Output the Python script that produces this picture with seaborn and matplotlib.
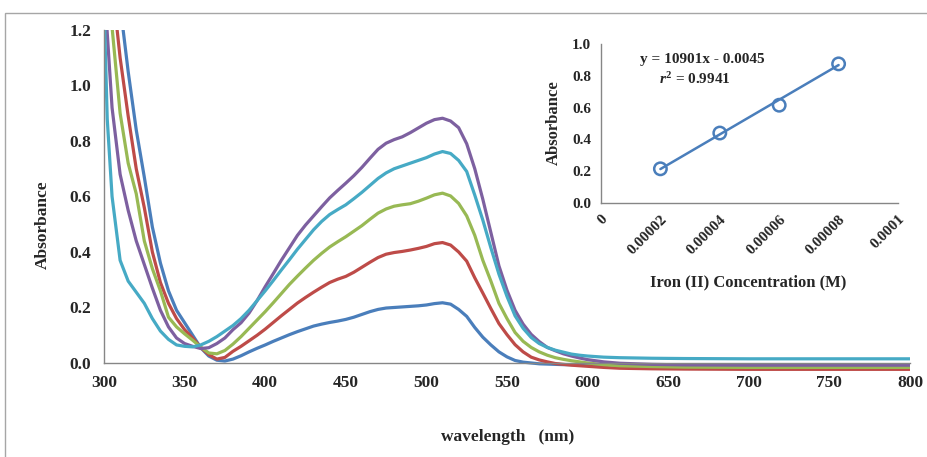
import numpy as np
import pandas as pd
import seaborn as sns
import matplotlib.pyplot as plt
from matplotlib.patches import Rectangle

# wavelength grid (nm) and absorbance
wavelength = [300, 302, 305, 310, 315, 320, 325, 330, 335, 340, 345, 350, 355, 360, 365,
              370, 375, 380, 385, 390, 395, 400, 405, 410, 415, 420, 425, 430, 435, 440,
              445, 450, 455, 460, 465, 470, 475, 480, 485, 490, 495, 500, 505, 510, 515,
              520, 525, 530, 535, 540, 545, 550, 555, 560, 565, 570, 575, 580, 585, 590,
              595, 600, 610, 620, 640, 660, 700, 750, 800]

blue = [1.75, 1.65, 1.50, 1.29, 1.05, 0.84, 0.67, 0.49, 0.36, 0.26, 0.19, 0.145, 0.10, 0.055, 0.025,
        0.010, 0.007, 0.014, 0.026, 0.040, 0.053, 0.065, 0.078, 0.090, 0.102, 0.113, 0.123, 0.133, 0.140, 0.146,
        0.151, 0.157, 0.165, 0.175, 0.185, 0.193, 0.198, 0.200, 0.202, 0.204, 0.206, 0.209, 0.214, 0.217, 0.212,
        0.193, 0.168, 0.128, 0.093, 0.065, 0.040, 0.022, 0.009, 0.003, 0.000, -0.003, -0.004, -0.005, -0.006, -0.006,
        -0.006, -0.006, -0.006, -0.006, -0.006, -0.006, -0.006, -0.006, -0.006]

red = [1.60, 1.50, 1.37, 1.10, 0.89, 0.70, 0.56, 0.40, 0.29, 0.215, 0.16, 0.12, 0.09, 0.056, 0.030,
       0.014, 0.020, 0.042, 0.060, 0.080, 0.100, 0.122, 0.146, 0.170, 0.193, 0.216, 0.236, 0.255, 0.273, 0.290,
       0.302, 0.312, 0.327, 0.345, 0.363, 0.380, 0.392, 0.398, 0.402, 0.407, 0.413, 0.420, 0.430, 0.434, 0.425,
       0.400, 0.367, 0.307, 0.252, 0.196, 0.142, 0.102, 0.066, 0.040, 0.021, 0.011, 0.004, -0.002, -0.005, -0.008,
       -0.010, -0.012, -0.016, -0.019, -0.021, -0.022, -0.023, -0.023, -0.023]

green = [1.50, 1.38, 1.21, 0.90, 0.72, 0.61, 0.44, 0.34, 0.26, 0.165, 0.13, 0.105, 0.082, 0.057, 0.036,
         0.033, 0.045, 0.068, 0.095, 0.125, 0.155, 0.185, 0.217, 0.250, 0.283, 0.313, 0.342, 0.370, 0.395, 0.418,
         0.437, 0.455, 0.475, 0.495, 0.518, 0.540, 0.555, 0.565, 0.570, 0.574, 0.583, 0.594, 0.606, 0.612, 0.602,
         0.575, 0.530, 0.460, 0.370, 0.295, 0.215, 0.160, 0.110, 0.078, 0.056, 0.040, 0.028, 0.019, 0.013, 0.008,
         0.004, 0.000, -0.006, -0.010, -0.013, -0.015, -0.016, -0.016, -0.016]

purple = [1.40, 1.19, 0.92, 0.68, 0.55, 0.44, 0.355, 0.27, 0.19, 0.13, 0.09, 0.07, 0.06, 0.052, 0.055,
          0.070, 0.090, 0.120, 0.145, 0.180, 0.225, 0.275, 0.322, 0.370, 0.415, 0.460, 0.497, 0.530, 0.563, 0.595,
          0.622, 0.648, 0.675, 0.705, 0.738, 0.770, 0.792, 0.805, 0.815, 0.830, 0.847, 0.864, 0.877, 0.882, 0.872,
          0.848, 0.790, 0.700, 0.590, 0.470, 0.350, 0.262, 0.190, 0.140, 0.103, 0.077, 0.056, 0.044, 0.033, 0.025,
          0.018, 0.012, 0.004, -0.001, -0.005, -0.007, -0.008, -0.008, -0.008]

cyan = [1.30, 0.88, 0.60, 0.37, 0.295, 0.255, 0.215, 0.16, 0.115, 0.085, 0.065, 0.06, 0.058, 0.065, 0.078,
        0.095, 0.115, 0.135, 0.160, 0.190, 0.225, 0.260, 0.297, 0.335, 0.372, 0.410, 0.445, 0.480, 0.510, 0.535,
        0.553, 0.570, 0.592, 0.615, 0.640, 0.665, 0.685, 0.700, 0.710, 0.720, 0.730, 0.740, 0.753, 0.762, 0.755,
        0.730, 0.690, 0.605, 0.515, 0.415, 0.320, 0.240, 0.170, 0.125, 0.092, 0.070, 0.056, 0.046, 0.039, 0.032,
        0.028, 0.025, 0.021, 0.019, 0.017, 0.016, 0.015, 0.015, 0.015]

series = {'blue': blue, 'red': red, 'green': green, 'purple': purple, 'cyan': cyan}
colors = {'blue': '#4A7EBB', 'red': '#BE4B48', 'green': '#98B954',
          'purple': '#7D60A0', 'cyan': '#46AAC5'}

# calibration inset
conc = [0.00002, 0.00004, 0.00006, 0.00008]
absorb = [0.215, 0.44, 0.615, 0.875]
slope, intercept = 10901, -0.0045

sns.set_style('white')
plt.rcParams['font.family'] = ['Liberation Serif', 'DejaVu Serif']
plt.rcParams['font.weight'] = 'bold'
plt.rcParams['mathtext.fontset'] = 'custom'
plt.rcParams['mathtext.rm'] = 'Liberation Serif:bold'
plt.rcParams['mathtext.it'] = 'Liberation Serif:italic:bold'

df = pd.concat([pd.DataFrame({'wl': wavelength, 'A': v, 'run': k}) for k, v in series.items()])

fig = plt.figure(figsize=(9.28, 4.57), dpi=100)
fig.patches.append(Rectangle((5 / 928, -0.1), 2, 1 - 13 / 457 + 0.1, transform=fig.transFigure,
                             fill=False, edgecolor='#A6A6A6', lw=1))

ax = fig.add_axes([104 / 928, 1 - 371.3 / 457, 806 / 928, 341.3 / 457])
sns.lineplot(data=df, x='wl', y='A', hue='run', palette=colors, sort=False,
             linewidth=2.3, legend=False, ax=ax, solid_joinstyle='round')
ax.set_xlim(300, 800)
ax.set_ylim(-0.03, 1.2)
ax.set_xticks(range(300, 801, 50))
ax.set_yticks(np.arange(0, 1.21, 0.2))
ax.set_yticklabels([f'{t:.1f}' for t in np.arange(0, 1.21, 0.2)])
for s in ['top', 'right']:
    ax.spines[s].set_visible(False)
ax.spines['bottom'].set_position(('data', 0))
ax.spines['left'].set_bounds(0, 1.2)
for s in ['bottom', 'left']:
    ax.spines[s].set_color('#868686')
    ax.spines[s].set_linewidth(1)
ax.tick_params(direction='out', length=5, width=1, color='#868686', labelsize=12.5, pad=4)
ax.set_xlabel('wavelength   (nm)', fontsize=12.5, fontweight='bold')
ax.set_ylabel('Absorbance', fontsize=12.5, fontweight='bold')
ax.xaxis.set_label_coords(0.501, -0.169)
ax.yaxis.set_label_coords(-0.066, 0.4287)

# inset calibration plot
ins = fig.add_axes([601 / 928, 1 - 203 / 457, 297 / 928, 159 / 457])
ins.patch.set_alpha(0)
fit_x = [conc[0], conc[-1]]
sns.lineplot(x=fit_x, y=[slope * c + intercept for c in fit_x], color='#4A7EBB',
             linewidth=1.8, ax=ins)
sns.scatterplot(x=conc, y=absorb, marker='o', s=80, facecolor='none',
                edgecolor='#4A7EBB', linewidth=1.8, ax=ins, zorder=3)
ins.set_xlim(0, 0.0001)
ins.set_ylim(0, 1.0)
ins.set_xticks([0, 0.00002, 0.00004, 0.00006, 0.00008, 0.0001])
ins.set_xticklabels(['0', '0.00002', '0.00004', '0.00006', '0.00008', '0.0001'],
                    rotation=45, ha='right', rotation_mode='anchor')
ins.set_yticks(np.arange(0, 1.01, 0.2))
ins.set_yticklabels([f'{t:.1f}' for t in np.arange(0, 1.01, 0.2)])
for s in ['top', 'right']:
    ins.spines[s].set_visible(False)
for s in ['bottom', 'left']:
    ins.spines[s].set_color('#868686')
    ins.spines[s].set_linewidth(1)
ins.tick_params(direction='out', length=4, width=1, color='#868686', labelsize=11, pad=3)
ins.set_xlabel('Iron (II) Concentration (M)', fontsize=12, fontweight='bold')
ins.set_ylabel('Absorbance', fontsize=12, fontweight='bold')
ins.xaxis.set_label_coords(0.495, -0.446)
ins.yaxis.set_label_coords(-0.131, 0.503)
ins.text(0.341, 0.903, 'y = 10901x - 0.0045', transform=ins.transAxes,
         ha='center', va='center', fontsize=11, fontweight='bold')
ins.text(0.317, 0.777, r'$r^2$ = 0.9941', transform=ins.transAxes,
         ha='center', va='center', fontsize=11, fontweight='bold')

plt.savefig('out.png', dpi=100)
